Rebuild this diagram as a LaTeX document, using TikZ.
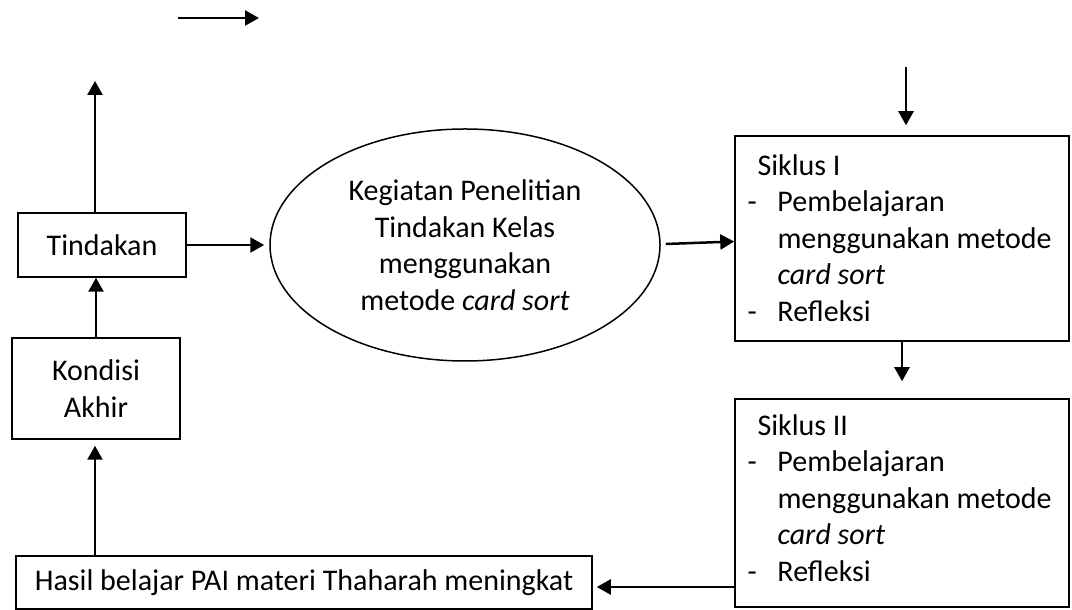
\documentclass[tikz,border=0pt]{standalone}
\usepackage{fontspec}
\setmainfont{Carlito}
\usepackage{tikz}
\usetikzlibrary{calc, arrows.meta, shapes.geometric}

\newcommand{\isisiklus}[1]{%
    \begin{tabular}{@{}p{12pt}@{}l@{}}
        \multicolumn{2}{@{\hspace{4pt}}l@{}}{Siklus #1}\\
        - & Pembelajaran\\
          & menggunakan metode\\
          & \textit{card sort}\\
        - & Refleksi
    \end{tabular}}

\begin{document}
\begin{tikzpicture}[x=0.4pt, y=-0.4pt,
        every node/.style={font=\fontsize{12}{14.6}\selectfont},
        kotak/.style={draw, line width=0.6pt, inner sep=0pt},
        panah/.style={line width=1pt, -{Triangle[length=5.6pt, width=6pt]}}]
            \useasboundingbox (0,0) rectangle (1072,610);
            \coordinate (P1) at (178,18);
            \coordinate (P2) at (259,18);
            \coordinate (T) at (95,81);
            \coordinate (S) at (906,67);
            % kotak kiri
            \node[kotak, minimum width=67.2pt, minimum height=25.6pt] (tind) at (102,245) {Tindakan};
            \node[kotak, minimum width=67.2pt, minimum height=40.4pt, align=center] (kond) at (96,388.5) {Kondisi\\Akhir};
            \node[kotak, minimum width=230.4pt, minimum height=21.2pt] (hasil) at (304,582.5) {Hasil belajar PAI materi Thaharah meningkat};
            % elips tengah
            \node[ellipse, draw, line width=0.6pt, minimum width=156pt, minimum height=92.8pt, inner sep=0pt, align=center] (ell) at (465,245)
                {Kegiatan Penelitian\\Tindakan Kelas\\menggunakan\\metode \textit{card sort}};
            % siklus
            \node[kotak, minimum width=133.6pt, minimum height=82pt] (s1) at (902,238.5) {};
            \node[kotak, minimum width=133.6pt, minimum height=83.2pt] (s2) at (902,503) {};
            \node[anchor=north west, inner sep=0pt] (s1txt) at (747,149) {\isisiklus{I}};
            \node[anchor=north west, inner sep=0pt] (s2txt) at (747,409) {\isisiklus{II}};
            \coordinate (A) at ($(hasil.east)+(4,4.5)$);
            \draw[panah] (P1) -- (P2);
            \draw[panah] (tind.north -| T) -- (T);
            \draw[panah] (S) -- ($(s1.north -| S)+(0,-10)$);
            \draw[panah] (kond.north) -- (kond.north |- tind.south);
            \draw[panah] (hasil.north -| T) -- ($(kond.south -| T)+(0,6)$);
            \draw[panah] (tind.east) -- ($(ell.west)+(-5,0)$);
            \draw[panah] ($(ell.east)+(5,-1)$) -- ($(s1.west)+(0,3)$);
            \draw[panah] (s1.south) -- ($(s2.north)+(0,-17)$);
            \draw[panah] (s2.west |- A) -- (A);
\end{tikzpicture}
\end{document}
